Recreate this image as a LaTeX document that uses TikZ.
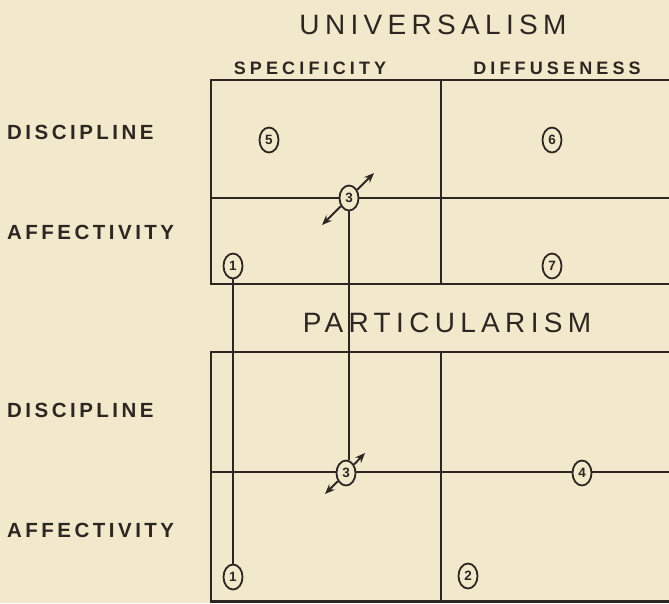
\documentclass[tikz,border=0pt]{standalone}
\usepackage{fontspec}
\usetikzlibrary{arrows.meta,shapes.geometric}
\newfontfamily\titfont{Liberation Sans}[LetterSpace=19]
\newfontfamily\labfont{Liberation Sans}[LetterSpace=17]
\newfontfamily\colfont{Liberation Sans}[LetterSpace=23]
\newfontfamily\numfont{Liberation Sans}
\definecolor{paper}{HTML}{F2E9CC}
\definecolor{ink}{HTML}{2E2620}
\tikzset{
  title/.style={font=\titfont\fontsize{28}{28}\selectfont, text=ink, inner sep=0pt},
  rowlab/.style={font=\labfont\bfseries\fontsize{20.5}{20.5}\selectfont, text=ink, inner sep=0pt, anchor=west},
  collab/.style={font=\colfont\bfseries\fontsize{18}{18}\selectfont, text=ink, inner sep=0pt},
  frame/.style={draw=ink, line width=2.3pt},
  grid/.style={draw=ink, line width=1.9pt},
  num/.style={ellipse, draw=ink, line width=1.8pt, fill=paper, minimum width=19pt, minimum height=25pt, inner sep=0pt, font=\numfont\bfseries\fontsize{13.5}{13.5}\selectfont, text=ink},
  link/.style={draw=ink, line width=1.8pt},
  dbl/.style={draw=ink, line width=1.9pt, -{Stealth[length=10pt,width=8pt]}}
}
\begin{document}
\begin{tikzpicture}[x=1pt,y=-1pt]
\fill[paper] (0,0) rectangle (669,603);
\useasboundingbox (0,0) rectangle (669,603);
% titles
\node[title] (univ) at (433,25) {UNIVERSALISM};
\node[title] (part) at (447,323) {PARTICULARISM};
\node[collab] (spec) at (310,68) {SPECIFICITY};
\node[collab] (diff) at (557,68) {DIFFUSENESS};
% row labels
\node[rowlab] (disc1) at (7,132) {DISCIPLINE};
\node[rowlab] (aff1) at (7,232) {AFFECTIVITY};
\node[rowlab] (disc2) at (7,410) {DISCIPLINE};
\node[rowlab] (aff2) at (7,530) {AFFECTIVITY};
% top grid
\coordinate (ta) at (211,80);
\coordinate (tb) at (211,284);
\draw[frame] (672,80) -- (ta) -- (tb) -- (672,284);
\draw[grid] (441,80) -- (441,284);
\draw[grid] (211,198) -- (672,198);
% bottom grid
\coordinate (ba) at (211,352);
\coordinate (bb) at (211,601.5);
\draw[frame] (672,352) -- (ba) -- (bb) -- (672,601.5);
\draw[grid] (441,352) -- (441,602);
\draw[grid] (211,472) -- (672,472);
% numbered cells
\node[num] (n5) at (269,140) {5};
\node[num] (n6) at (552,140) {6};
\node[num] (n7) at (552,266) {7};
\node[num] (n1a) at (233,266) {1};
\node[num] (n3a) at (349,198) {3};
\node[num] (n3b) at (346,473) {3};
\node[num] (n4) at (582,473) {4};
\node[num] (n2) at (468,576) {2};
\node[num] (n1b) at (233,577) {1};
% connectors
\draw[link] (n1a.south) -- (n1b.north);
\draw[link] (n3a.south) -- (n3a.south |- n3b.north);
% double arrows
\coordinate (a3ur) at (374,173);
\coordinate (a3ll) at (322,225);
\coordinate (b3ur) at (365,453);
\coordinate (b3ll) at (325,494);
\draw[dbl] (n3a) -- (a3ur);
\draw[dbl] (n3a) -- (a3ll);
\draw[dbl] (n3b) -- (b3ur);
\draw[dbl] (n3b) -- (b3ll);
\end{tikzpicture}
\end{document}
